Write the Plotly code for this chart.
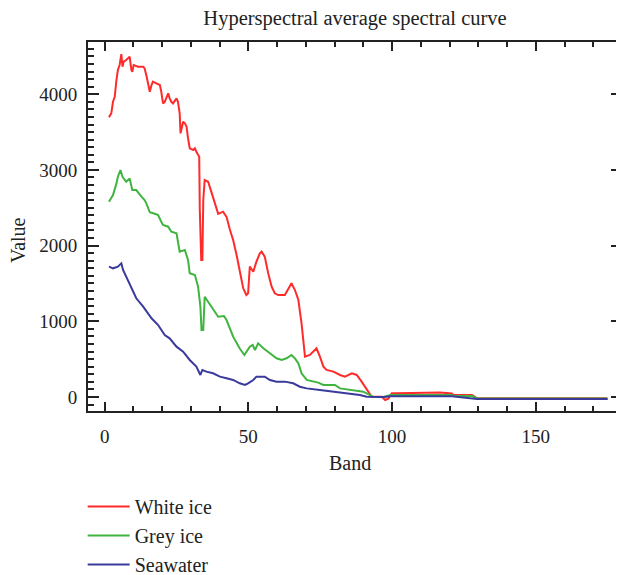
import plotly.graph_objects as go

# ---- data ----
white_band = [1.5, 2.3, 2.9, 3.5, 4.1, 4.6, 5.2, 5.8, 6.2, 6.6, 7.5, 8.1, 8.7, 9.3, 9.6, 10.1, 11.6, 13.4,
              13.9, 14.5, 15.1, 15.7, 16.3, 16.8, 18.0, 19.2, 19.7, 20.3, 20.9, 21.5, 22.1, 22.6, 23.2, 23.8,
              24.4, 25.0, 25.5, 26.1, 26.4, 26.7, 27.3, 27.9, 28.5, 29.0, 29.6, 30.8, 31.4, 31.9, 32.5, 32.9,
              33.1, 33.6, 34.0, 34.3, 34.8, 36.0, 37.2, 38.3, 39.5, 41.2, 42.4, 43.6, 44.7, 45.9, 47.0, 48.2,
              49.3, 49.9, 50.5, 51.1, 51.7, 52.8, 54.0, 54.6, 55.7, 56.9, 58.1, 59.2, 60.4, 62.7, 63.9, 65.0,
              66.2, 67.4, 68.5, 69.7, 71.4, 72.6, 73.7, 74.9, 76.1, 77.2, 79.6, 81.9, 83.6, 86.0, 87.7, 89.4,
              91.2, 92.9, 96.4, 97.6, 98.7, 99.9, 101.6, 116.7, 120.8, 121.4, 127.8, 129.5, 174.8]
white_val = [3695, 3747, 3900, 3967, 4188, 4320, 4386, 4531, 4364, 4430, 4452, 4474, 4496, 4320, 4298, 4386,
             4364, 4364, 4340, 4250, 4144, 4033, 4122, 4166, 4144, 4122, 4033, 3879, 3900, 3967, 4011, 3945,
             3900, 3879, 3920, 3945, 3900, 3747, 3483, 3527, 3637, 3615, 3571, 3420, 3285, 3263, 3285, 3240,
             3197, 3175, 2470, 1810, 1810, 2600, 2866, 2844, 2700, 2560, 2420, 2448, 2380, 2206, 2074, 1876,
             1656, 1436, 1347, 1370, 1722, 1678, 1655, 1788, 1898, 1920, 1854, 1634, 1457, 1370, 1347, 1347,
             1436, 1502, 1413, 1281, 973, 533, 555, 599, 643, 533, 401, 357, 335, 291, 269, 313, 291, 203,
             92, 4, 4, -40, -22, 49, 49, 58, 45, 25, 25, -15, -15]

grey_band = [1.5, 2.9, 4.1, 4.6, 5.5, 6.2, 7.5, 8.7, 9.6, 11.0, 12.8, 13.9, 14.5, 15.7, 17.4, 18.6, 19.7,
             20.3, 22.1, 23.2, 25.0, 26.1, 27.9, 29.0, 29.6, 31.4, 32.5, 33.3, 33.7, 34.3, 34.8, 36.0, 37.7,
             39.5, 41.5, 42.4, 44.7, 47.0, 48.6, 50.5, 51.5, 52.3, 53.4, 55.2, 57.5, 59.8, 61.6, 63.3, 65.0,
             66.2, 67.4, 68.5, 70.3, 72.6, 74.3, 76.1, 80.1, 81.9, 87.1, 90.0, 92.3, 93.4, 97.0, 99.5,
             120.8, 121.4, 127.8, 129.5, 175.0]
grey_val = [2580, 2668, 2822, 2910, 2999, 2910, 2844, 2888, 2734, 2734, 2646, 2602, 2558, 2440, 2420, 2404,
            2316, 2272, 2250, 2184, 2162, 1920, 1942, 1810, 1634, 1612, 1457, 1193, 885, 885, 1325, 1259,
            1149, 1061, 1070, 1017, 797, 640, 555, 665, 687, 621, 709, 643, 577, 511, 489, 511, 555, 511,
            445, 313, 225, 203, 190, 159, 159, 114, 92, 70, 26, 4, 0, 25, 25, 12, 12, -20, -20]

sea_band = [1.5, 2.9, 4.6, 5.8, 6.4, 8.1, 9.3, 11.0, 13.4, 15.1, 16.3, 18.6, 20.9, 22.6, 25.0, 27.3, 29.6,
            31.9, 33.3, 34.0, 35.4, 37.7, 40.1, 42.4, 44.7, 47.0, 48.8, 49.9, 51.7, 52.8, 55.7, 57.5, 59.8,
            62.7, 65.6, 67.9, 70.3, 74.9, 79.6, 84.2, 88.8, 91.2, 97.0, 99.5, 120.8, 129.5, 175.0]
sea_val = [1722, 1700, 1722, 1766, 1678, 1546, 1436, 1304, 1193, 1106, 1040, 951, 819, 775, 665, 599, 489,
           401, 291, 357, 335, 313, 269, 247, 225, 181, 159, 181, 225, 269, 269, 225, 203, 203, 181, 136, 114,
           92, 70, 49, 26, 4, 0, 10, 10, -25, -25]

series_names = ["White ice", "Grey ice", "Seawater"]
x_ticks = [0, 50, 100, 150]
y_ticks = [0, 1000, 2000, 3000, 4000]

colors = ["#ff2b2b", "#3fb43f", "#3a3a9c"]
serif = "Liberation Serif, Times New Roman, serif"
txt = "#222"

fig = go.Figure()
for name, xs, ys, c in zip(series_names, [white_band, grey_band, sea_band],
                           [white_val, grey_val, sea_val], colors):
    fig.add_trace(go.Scatter(x=xs, y=ys, mode="lines", name=name,
                             line=dict(color=c, width=2)))

axis_common = dict(showline=True, linewidth=2, linecolor="#222", mirror="allticks",
                   ticks="inside", tickcolor="#222", tickwidth=1.5, showgrid=False, zeroline=False,
                   automargin=False,
                   tickfont=dict(family=serif, size=19, color=txt))

fig.update_xaxes(range=[-5.8, 180], tickvals=x_ticks, ticklen=9, ticklabelstandoff=7,
                 minor=dict(dtick=10, tick0=0, ticks="inside", ticklen=5, tickcolor="#222", showgrid=False),
                 **axis_common)
fig.update_yaxes(range=[-185, 4690], tickvals=y_ticks, ticklen=11, ticklabelstandoff=5,
                 minor=dict(dtick=100, tick0=0, ticks="inside", ticklen=6, tickcolor="#222", showgrid=False),
                 **axis_common)

fig.add_annotation(text="Value", xref="paper", yref="paper", x=-0.131, y=0.4634,
                   textangle=-90, showarrow=False, xanchor="center", yanchor="middle",
                   font=dict(family=serif, size=20, color=txt))
fig.add_annotation(text="Band", xref="paper", yref="paper", x=0.4906, y=-0.1409,
                   showarrow=False, xanchor="center", yanchor="middle",
                   font=dict(family=serif, size=20, color=txt))

# the page body has an 8px margin, so the figure is sized to fit the 624x575 window
fig.update_layout(
    width=616, height=567,
    margin=dict(l=80, r=2, t=34, b=164, autoexpand=False),
    paper_bgcolor="white", plot_bgcolor="white",
    title=dict(text="Hyperspectral average spectral curve", x=0.5, xref="paper", xanchor="center",
               y=1 - 10 / 567, yref="container", yanchor="middle",
               font=dict(family=serif, size=20.5, color=txt)),
    legend=dict(x=-0.01, y=-0.206, xanchor="left", yanchor="top", orientation="v",
                font=dict(family=serif, size=20, color=txt), bgcolor="rgba(0,0,0,0)",
                tracegroupgap=0, itemwidth=42),
    showlegend=True,
)

fig.write_html("out.html")
